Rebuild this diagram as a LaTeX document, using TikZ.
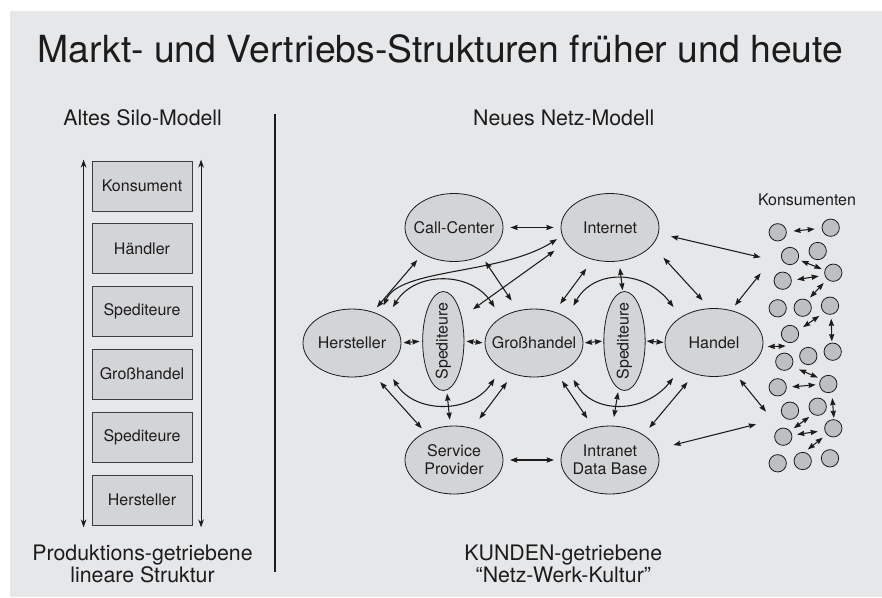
\documentclass[tikz,border=0pt]{standalone}
\usepackage{fontspec}
\setmainfont{TeX Gyre Heros}
\usepackage{graphicx}
\usetikzlibrary{arrows.meta,shapes.geometric}

\definecolor{bg}{RGB}{230,231,233}
\definecolor{shapefill}{RGB}{211,212,214}
\definecolor{dotfill}{RGB}{190,191,194}
\definecolor{ink}{RGB}{28,28,28}

\begin{document}
\begin{tikzpicture}[x=0.75pt,y=-0.75pt,
  >={Stealth[length=5.4pt,width=3.9pt,inset=0.5pt]},
  arr/.style={<->,line width=0.8pt,draw=ink},
  siloarr/.style={{Stealth[length=6pt,width=4.2pt]}-{Stealth[length=6pt,width=4.2pt]},line width=0.8pt,draw=ink},
  lbl/.style={font=\fontsize{12}{13.7}\selectfont,text=ink,align=center,inner sep=0pt},
  silobox/.style={draw=ink!85,line width=0.6pt,fill=shapefill,minimum width=75pt,minimum height=37.5pt,inner sep=0pt,font=\fontsize{12}{14}\selectfont,text=ink},
  netz/.style={ellipse,draw=ink,line width=0.6pt,fill=shapefill,minimum width=73.5pt,minimum height=51pt,inner sep=0pt,label={[lbl]center:#1}},
  spedi/.style={ellipse,draw=ink,line width=0.6pt,fill=shapefill,minimum width=31pt,minimum height=74.25pt,inner sep=0pt,label={[lbl,rotate=90]center:Spediteure}},
  kons/.style={circle,draw=ink,line width=0.6pt,fill=dotfill,minimum size=13pt,inner sep=0pt},
  head/.style={font=\fontsize{16}{19}\selectfont,text=ink,anchor=base,inner sep=0pt}
]
\useasboundingbox (0,0) rectangle (882,597);
\fill[bg] (10,11) rectangle (882,597);

% title and headings
\node[font=\fontsize{28}{34}\selectfont,text=ink,anchor=base,inner sep=0pt] (title) at (440.5,62) {Markt- und Vertriebs-Strukturen früher und heute};
\node[head] (altH) at (142.7,125) {Altes Silo-Modell};
\node[head] (neuH) at (563.8,125) {Neues Netz-Modell};
\node[head] (altF1) at (142.5,560.7) {Produktions-getriebene};
\node[head] (altF2) at (142.5,582.7) {lineare Struktur};
\node[head] (neuF1) at (563.3,560) {KUNDEN-getriebene};
\node[head] (neuF2) at (563.3,582.7) {“Netz-Werk-Kultur”};

% divider
\draw[line width=1.3pt,ink] (275,114) -- (275,572);

% silo model
\node[silobox] (b1) at (142,186) {Konsument};
\node[silobox] (b2) at (142,248.5) {Händler};
\node[silobox] (b3) at (142,311.5) {Spediteure};
\node[silobox] (b4) at (142,374) {Großhandel};
\node[silobox] (b5) at (142,437) {Spediteure};
\node[silobox] (b6) at (142,500) {Hersteller};
\draw[siloarr] ([xshift=-6pt,yshift=0.75pt]b1.north west) -- ([xshift=-6pt,yshift=-1.5pt]b6.south west);
\draw[siloarr] ([xshift=6.5pt,yshift=0.75pt]b1.north east) -- ([xshift=6.5pt,yshift=-1.5pt]b6.south east);

% network model
\node[netz=Call-Center] (CC) at (454,227.5) {};
\node[netz=Internet] (IN) at (610,227.5) {};
\node[netz=Hersteller] (HE) at (352,343) {};
\node[spedi] (S1) at (443.3,341) {};
\node[netz=Großhandel] (GH) at (534,343) {};
\node[spedi] (S2) at (624.5,341) {};
\node[netz=Handel] (HA) at (714,342.5) {};
\node[netz={Service\\Provider}] (SP) at (454,460) {};
\node[netz={Intranet\\Data Base}] (ID) at (610,460) {};

% consumers
\node[lbl] (konsT) at (807,199.5) {Konsumenten};
\node[kons] (k1) at (777.7,232.3) {};
\node[kons] (k2) at (830.7,227.7) {};
\node[kons] (k3) at (790,256) {};
\node[kons] (k4) at (817.7,251) {};
\node[kons] (k5) at (782.7,280.7) {};
\node[kons] (k6) at (833.3,272.7) {};
\node[kons] (k7) at (777.7,308.3) {};
\node[kons] (k8) at (802.7,307.7) {};
\node[kons] (k9) at (830,305.7) {};
\node[kons] (k10) at (790,334) {};
\node[kons] (k11) at (832.7,351.7) {};
\node[kons] (k12) at (784.3,361.7) {};
\node[kons] (k13) at (808.3,356) {};
\node[kons] (k14) at (777.7,387.3) {};
\node[kons] (k15) at (828.3,384) {};
\node[kons] (k16) at (790,410.7) {};
\node[kons] (k17) at (817.7,406.7) {};
\node[kons] (k18) at (833.3,428.3) {};
\node[kons] (k19) at (783.3,436.7) {};
\node[kons] (k20) at (777.7,463.3) {};
\node[kons] (k21) at (802.7,461) {};
\node[kons] (k22) at (830,458.3) {};

% free ends of the arrows into the consumer group
\coordinate (kA) at (756,424.3);
\coordinate (kB) at (766,411.7);
\coordinate (kC) at (785.7,346);
\coordinate (kD) at (760.7,273.3);
\coordinate (kE) at (760.7,257.3);

% network connectors
\draw[arr,shorten <=5.25pt,shorten >=5.25pt] (CC.0) -- (IN.180);
\draw[arr,shorten <=4.5pt,shorten >=6pt] (HE.56) -- (CC.220);
\draw[arr,shorten <=7.5pt,shorten >=4.5pt] (HE.46) .. controls (400,268) and (500,275) .. (IN.190);
\draw[arr,shorten <=9.75pt,shorten >=9pt] (HE.36) .. controls (415,271) and (471,271) .. (GH.142);
\draw[arr,shorten <=10.3pt,shorten >=10.3pt] (S1.52) -- (IN.199);
\draw[arr,shorten <=5pt,shorten >=8.8pt] (CC.314) -- (GH.116);
\draw[arr,shorten <=1.5pt,shorten >=2pt] (HE.east) -- (S1.west);
\draw[arr,shorten <=1.5pt,shorten >=1.5pt] (S1.east) -- (GH.west);
\draw[arr,shorten <=9.9pt,shorten >=9pt] (HE.324) .. controls (415,414) and (471,414) .. (GH.218);
\draw[arr,shorten <=2.5pt,shorten >=4.5pt] (S1.274) -- (SP.96);
\draw[arr,shorten <=8pt,shorten >=3.75pt] (HE.304) -- (SP.136);
\draw[arr,shorten <=7.5pt,shorten >=8.7pt] (GH.236) -- (SP.60);
\draw[arr,shorten <=5pt,shorten >=5pt] (SP.east) -- (ID.west);
\draw[arr,shorten <=6.75pt,shorten >=8.25pt] (GH.307) -- (ID.117);
\draw[arr,shorten <=9.7pt,shorten >=9.5pt] (GH.322) .. controls (594,414) and (644,414) .. (HA.218);
\draw[arr,shorten <=10pt,shorten >=9.3pt] (GH.38) .. controls (594,269) and (644,269) .. (HA.142);
\draw[arr,shorten <=2.5pt,shorten >=6.5pt] (S2.263) -- (ID.86);
\draw[arr,shorten <=7.9pt,shorten >=6.75pt] (HA.238) -- (ID.37.5);
\draw[arr,shorten <=12.7pt] (ID.13.5) -- (kA);
\draw[arr,shorten <=5.6pt] (HA.304.5) -- (kB);
\draw[arr,shorten <=3.5pt] (HA.355) -- (kC);
\draw[arr,shorten <=4.5pt] (HA.62.8) -- (kD);
\draw[arr,shorten <=9.5pt] (IN.353.6) -- (kE);
\draw[arr,shorten <=12.5pt,shorten >=8pt] (IN.337) -- (HA.97);
\draw[arr,shorten <=8.25pt,shorten >=7.3pt] (IN.242.6) -- (GH.57.5);
\draw[arr,shorten <=5pt,shorten >=0.75pt] (IN.285) -- (S2.92);
\draw[arr,shorten <=1pt,shorten >=1pt] (GH.east) -- (S2.west);
\draw[arr,shorten <=0.75pt,shorten >=0.75pt] (S2.east) -- (HA.west);

% connectors between consumers
\draw[arr,shorten <=5pt,shorten >=5.2pt] (k1.4.9) -- (k2.184.7);
\draw[arr,shorten <=2.5pt,shorten >=2.5pt] (k3.336.9) -- (k6.163.7);
\draw[arr,shorten <=4pt,shorten >=4.4pt] (k5.2.9) -- (k6.196);
\draw[arr,shorten <=2.7pt,shorten >=3.75pt] (k8.57.6) -- (k6.227.1);
\draw[arr,shorten <=4.3pt,shorten >=4.3pt] (k10.23.2) -- (k9.229.8);
\draw[arr,shorten <=3pt,shorten >=1pt] (k9.277.7) -- (k11.95.7);
\draw[arr,shorten <=5.7pt,shorten >=2.5pt] (k12.329.3) -- (k15.146.2);
\draw[arr,shorten <=4pt,shorten >=2.7pt] (k14.0) -- (k15.183.3);
\draw[arr,shorten <=4.3pt,shorten >=1pt] (k15.293.2) -- (k18.86);
\draw[arr,shorten <=3.3pt,shorten >=3.3pt] (k19.40) -- (k17.237.5);
\draw[arr,shorten <=3.7pt,shorten >=5.1pt] (k19.10.2) -- (k18.194.9);
\draw[arr,shorten <=3.2pt,shorten >=3.75pt] (k21.79.7) -- (k18.223.2);
\end{tikzpicture}
\end{document}
